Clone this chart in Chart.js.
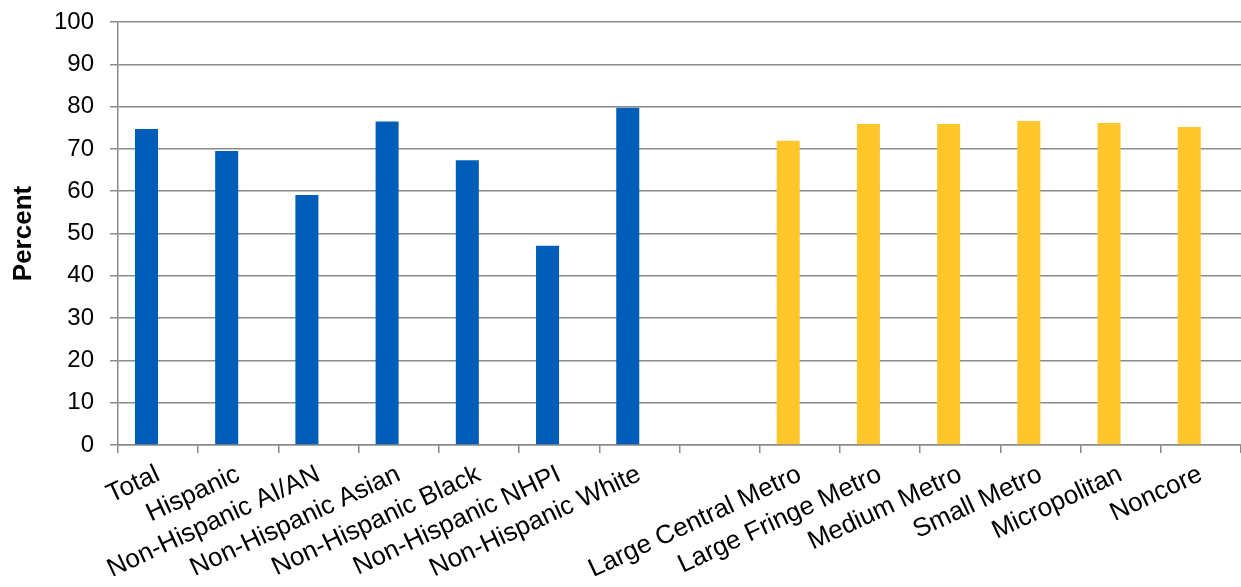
<!DOCTYPE html>
<html>
<head>
<meta charset="utf-8">
<script src="https://cdn.jsdelivr.net/npm/chart.js@4/dist/chart.umd.min.js"></script>
<style>
  html, body { margin: 0; padding: 0; background: #fff; }
  #wrap { width: 1241px; height: 587px; }
</style>
</head>
<body>
<div id="wrap"><canvas id="myChart"></canvas></div>
<script>
// categories
var raceLabels = ["Total", "Hispanic", "Non-Hispanic AI/AN", "Non-Hispanic Asian",
  "Non-Hispanic Black", "Non-Hispanic NHPI", "Non-Hispanic White"];
var locationLabels = ["Large Central Metro", "Large Fringe Metro", "Medium Metro",
  "Small Metro", "Micropolitan", "Noncore"];
// values (percent)
var raceValues = [74.7, 69.5, 59.1, 76.5, 67.3, 47.1, 79.7];
var locationValues = [71.9, 75.9, 75.9, 76.6, 76.1, 75.2];
var yTicks = [0, 10, 20, 30, 40, 50, 60, 70, 80, 90, 100];

function init(){
  var labels = raceLabels.concat([""]).concat(locationLabels);
  var blue = raceValues.concat([null]);
  for (var i = 0; i < locationLabels.length; i++) blue.push(null);
  var yellow = [];
  for (var j = 0; j <= raceLabels.length; j++) yellow.push(null);
  yellow = yellow.concat(locationValues);
  var empty = labels.map(function () { return null; });
  printgraph(labels, blue, yellow, empty);
}

function printgraph(labels, blue, yellow, empty){
  var ctx = document.getElementById('myChart').getContext('2d');
  Chart.defaults.font.family = "'Liberation Sans', Arial, sans-serif";
  Chart.defaults.color = '#000';
  // blue and yellow share the left slot of each category, the empty set takes the right one
  var common = { categoryPercentage: 0.58, barPercentage: 0.99 };
  new Chart(ctx, {
    type: 'bar',
    data: {
      labels: labels,
      datasets: [
        Object.assign({ label: 'Race/ethnicity', data: blue, backgroundColor: '#005EB8', stack: 'a' }, common),
        Object.assign({ label: 'Location', data: yellow, backgroundColor: '#FFC72C', stack: 'a' }, common),
        Object.assign({ label: '', data: empty, backgroundColor: 'rgba(0,0,0,0)', stack: 'b' }, common)
      ]
    },
    options: {
      responsive: true,
      maintainAspectRatio: false,
      animation: false,
      layout: { padding: { top: 22, right: 0, left: 0, bottom: 0 } },
      plugins: { legend: { display: false }, tooltip: { enabled: false } },
      scales: {
        x: {
          stacked: true,
          afterFit: function (s) { s.height = 142; },
          grid: { drawOnChartArea: false, drawTicks: true, tickLength: 8, color: '#8a8a8a', lineWidth: 1.5 },
          border: { color: '#8a8a8a', width: 1.5 },
          ticks: { minRotation: 25, maxRotation: 25, autoSkip: false, padding: 6, font: { size: 26 } }
        },
        y: {
          stacked: true,
          min: 0, max: 100,
          afterFit: function (s) { s.width = 118; s.paddingTop = 0; s.paddingBottom = 0; },
          afterBuildTicks: function (s) { s.ticks = yTicks.map(function (v) { return { value: v }; }); },
          grid: { color: '#8a8a8a', lineWidth: 1.5, tickLength: 8 },
          border: { color: '#8a8a8a', width: 1.5 },
          ticks: { padding: 16, font: { size: 24 } },
          title: { display: true, text: 'Percent', font: { size: 26, weight: 'bold' }, padding: { top: 8, bottom: 0 } }
        }
      }
    }
  });
}
init();
</script>
</body>
</html>
